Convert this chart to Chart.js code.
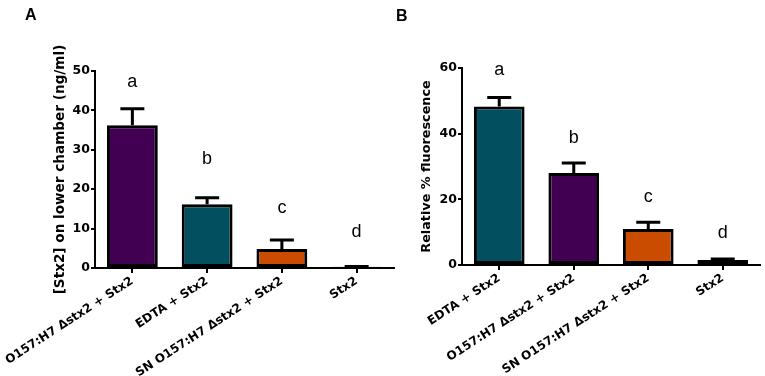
<!DOCTYPE html>
<html>
<head>
<meta charset="utf-8">
<script src="https://cdn.jsdelivr.net/npm/chart.js@4.4.0/dist/chart.umd.min.js"></script>
<style>
  body { margin: 0; background: #fff; }
  #wrap { position: relative; width: 765px; height: 376px; }
  canvas { position: absolute; left: 0; top: 0; }
  .panel { position: absolute; font: bold 16px "Liberation Sans", Arial, sans-serif; color: #000; }
</style>
</head>
<body>
<div id="wrap">
  <canvas id="chartA" width="765" height="376"></canvas>
  <canvas id="chartB" width="765" height="376"></canvas>
  <div class="panel" style="left:25px; top:6px;">A</div>
  <div class="panel" style="left:396px; top:7px;">B</div>
</div>
<script>
// Panel A data
const labelsA = ["O157:H7 \u0394stx2 + Stx2", "EDTA + Stx2", "SN O157:H7 \u0394stx2 + Stx2", "Stx2"];
const valuesA = [36.2, 16.2, 4.8, 0.3];
const errorsA = [4.2, 1.6, 2.3, 0.1];
const lettersA = ["a", "b", "c", "d"];
const letterLevelA = [47.2, 27.7, 15.2, 9.1];
const ticksA = [0, 10, 20, 30, 40, 50];

// Panel B data
const labelsB = ["EDTA + Stx2", "O157:H7 \u0394stx2 + Stx2", "SN O157:H7 \u0394stx2 + Stx2", "Stx2"];
const valuesB = [48.3, 28.0, 11.0, 1.5];
const errorsB = [2.7, 3.1, 2.0, 0.3];
const lettersB = ["a", "b", "c", "d"];
const letterLevelB = [59.3, 38.6, 20.6, 9.7];
const ticksB = [0, 20, 40, 60];

const PURPLE = "#410052";
const TEAL = "#02505f";
const ORANGE = "#c94c00";
const NAVY = "#00005e";

// draws upper error bars and significance letters
const errorBarPlugin = {
  id: "errorBars",
  afterDatasetsDraw(chart, args, opts) {
    const ctx = chart.ctx;
    const xs = chart.scales.x;
    const ys = chart.scales.y;
    const vals = chart.data.datasets[0].data;
    ctx.save();
    ctx.strokeStyle = "#000";
    ctx.lineWidth = 3;
    vals.forEach((v, i) => {
      const x = xs.getPixelForValue(i);
      const y0 = ys.getPixelForValue(v);
      const y1 = ys.getPixelForValue(v + opts.errors[i]);
      ctx.beginPath();
      ctx.moveTo(x, y0);
      ctx.lineTo(x, y1);
      ctx.moveTo(x - 12, y1);
      ctx.lineTo(x + 12, y1);
      ctx.stroke();
    });
    ctx.fillStyle = "#000";
    ctx.font = '18px "Liberation Sans", Arial, sans-serif';
    ctx.textAlign = "center";
    ctx.textBaseline = "middle";
    opts.letters.forEach((t, i) => {
      ctx.fillText(t, xs.getPixelForValue(i), ys.getPixelForValue(opts.levels[i]));
    });
    ctx.restore();
  },
};

function makeChart(id, labels, values, colors, errors, letters, levels, tickVals, yTitle, titleSize, pad, xHeight) {
  const ctx = document.getElementById(id).getContext("2d");
  return new Chart(ctx, {
    type: "bar",
    data: {
      labels: labels,
      datasets: [
        {
          data: values,
          backgroundColor: colors,
          borderColor: "#000",
          borderWidth: 3,
          borderSkipped: false,
          barPercentage: 0.68,
          categoryPercentage: 1,
        },
      ],
    },
    options: {
      responsive: false,
      animation: false,
      layout: { padding: pad },
      plugins: {
        legend: { display: false },
        tooltip: { enabled: false },
        errorBars: { errors: errors, letters: letters, levels: levels },
      },
      scales: {
        x: {
          grid: { display: true, drawOnChartArea: false, offset: false, tickLength: 5, color: "#000", lineWidth: 2 },
          border: { display: true, color: "#000", width: 2 },
          ticks: {
            autoSkip: false,
            minRotation: 33,
            maxRotation: 33,
            padding: 1,
            color: "#000",
            font: { family: '"DejaVu Sans"', size: 12, weight: "bold" },
          },
          afterFit: (scale) => {
            scale.height = xHeight;
            scale.paddingLeft = 0;
            scale.paddingRight = 0;
          },
        },
        y: {
          min: tickVals[0],
          max: tickVals[tickVals.length - 1],
          afterBuildTicks: (scale) => { scale.ticks = tickVals.map((v) => ({ value: v })); },
          grid: { display: true, drawOnChartArea: false, tickLength: 4, color: "#000", lineWidth: 2 },
          border: { display: true, color: "#000", width: 2 },
          ticks: {
            padding: 1,
            color: "#000",
            font: { family: '"DejaVu Sans"', size: 12.5, weight: "bold" },
          },
          title: {
            display: true,
            text: yTitle,
            color: "#000",
            padding: 0,
            font: { family: '"DejaVu Sans"', size: titleSize, weight: "bold" },
          },
          afterFit: (scale) => {
            scale.width = 43;
            scale.paddingTop = 0;
            scale.paddingBottom = 0;
          },
        },
      },
    },
    plugins: [errorBarPlugin],
  });
}

makeChart("chartA", labelsA, valuesA, [PURPLE, TEAL, ORANGE, "#000"], errorsA, lettersA, letterLevelA, ticksA,
  "[Stx2] on lower chamber (ng/ml)", 13.6, { left: 52, right: 371, top: 71, bottom: 0 }, 108);

makeChart("chartB", labelsB, valuesB, [TEAL, PURPLE, ORANGE, NAVY], errorsB, lettersB, letterLevelB, ticksB,
  "Relative % fluorescence", 12.8, { left: 419, right: 5, top: 68, bottom: 0 }, 111);
</script>
</body>
</html>
